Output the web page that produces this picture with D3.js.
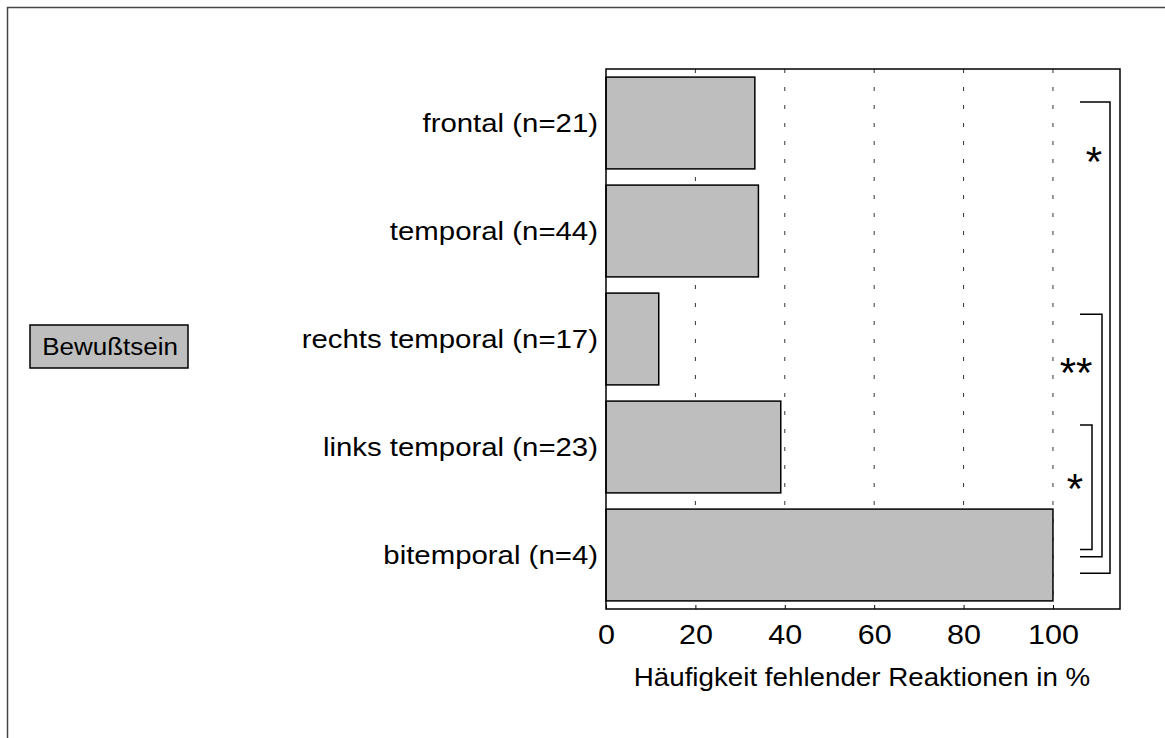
<!DOCTYPE html>
<html>
<head>
<meta charset="utf-8">
<script src="https://cdn.jsdelivr.net/npm/d3@7"></script>
<style>
  body { margin: 0; background: #fff; }
  text { font-family: "Liberation Sans", Arial, sans-serif; fill: #000; }
</style>
</head>
<body>
<div id="chart"></div>
<script>
// Data
const categories = ["frontal (n=21)", "temporal (n=44)", "rechts temporal (n=17)", "links temporal (n=23)", "bitemporal (n=4)"];
const values = [33.3, 34.1, 11.8, 39.1, 100];
const tickValues = [0, 20, 40, 60, 80, 100];
const gridValues = [20, 40, 60, 80, 100];
const comparisonFrom = ["frontal (n=21)", "rechts temporal (n=17)", "links temporal (n=23)"];
const comparisonTo = ["bitemporal (n=4)", "bitemporal (n=4)", "bitemporal (n=4)"];
const comparisonLabels = ["*", "**", "*"];
const groupLabel = "Bewußtsein";
const xTitle = "Häufigkeit fehlender Reaktionen in %";

const width = 1165;
const height = 738;
const plot = { left: 606, right: 1120, top: 69, bottom: 609 };
const stretch = 1.13; // the original lettering is a bit wider than Liberation Sans

const svg = d3.select("#chart")
  .append("svg")
    .attr("width", width)
    .attr("height", height);

// outer page frame (clipped at right / bottom)
svg.append("rect")
  .attr("x", 7.5).attr("y", 7.5)
  .attr("width", width + 20).attr("height", height + 20)
  .attr("fill", "none")
  .attr("stroke", "#444")
  .attr("stroke-width", 1.5);

const x = d3.scaleLinear().domain([0, 115]).range([plot.left, plot.right]);
const y = d3.scaleBand().domain(categories).range([plot.top, plot.bottom])
  .paddingInner(0.15).paddingOuter(0.075);

// helper: place a text at (px, py) with horizontal stretch
function place(sel, px, py) {
  return sel.attr("x", 0).attr("y", 0)
    .attr("transform", `translate(${px},${py}) scale(${stretch},1)`);
}

// dotted grid lines
svg.selectAll(".grid")
  .data(gridValues)
  .enter()
  .append("line")
    .attr("x1", d => x(d)).attr("x2", d => x(d))
    .attr("y1", plot.top).attr("y2", plot.bottom)
    .attr("stroke", "#333")
    .attr("stroke-width", 1)
    .attr("stroke-dasharray", "4,14");

// bars
svg.selectAll(".bar")
  .data(categories)
  .enter()
  .append("rect")
    .attr("x", x(0))
    .attr("y", d => y(d))
    .attr("width", (d, i) => x(values[i]) - x(0))
    .attr("height", y.bandwidth())
    .attr("fill", "#bebebe")
    .attr("stroke", "#000")
    .attr("stroke-width", 1.5);

// plot frame
svg.append("rect")
  .attr("x", plot.left).attr("y", plot.top)
  .attr("width", plot.right - plot.left)
  .attr("height", plot.bottom - plot.top)
  .attr("fill", "none")
  .attr("stroke", "#000")
  .attr("stroke-width", 1.5);

// x axis, ticks pointing inward
const xAxis = svg.append("g")
  .attr("transform", `translate(0,${plot.bottom})`)
  .call(d3.axisBottom(x).tickValues(tickValues).tickSizeInner(-4).tickSizeOuter(0).tickPadding(16));
xAxis.select(".domain").remove();
xAxis.selectAll(".tick line").attr("stroke", "#000");
xAxis.selectAll("text")
  .attr("transform", `scale(${stretch},1)`)
  .style("font-family", "'Liberation Sans', Arial, sans-serif")
  .style("font-size", "27px")
  .attr("fill", "#000");

place(svg.append("text"), 862, 686)
  .attr("text-anchor", "middle")
  .style("font-size", "25px")
  .attr("transform", `translate(862,686) scale(1.11,1)`)
  .text(xTitle);

// category labels
svg.selectAll(".cat")
  .data(categories)
  .enter()
  .append("text")
    .each(function (d) { place(d3.select(this), plot.left - 8, y(d) + y.bandwidth() / 2); })
    .attr("dy", "0.35em")
    .attr("text-anchor", "end")
    .style("font-size", "26px")
    .text(d => d);

// group label box
const box = svg.append("g");
box.append("rect")
  .attr("x", 30).attr("y", 325)
  .attr("width", 158).attr("height", 43)
  .attr("fill", "#bebebe")
  .attr("stroke", "#000")
  .attr("stroke-width", 1.5);
place(box.append("text"), 110, 347)
  .attr("dy", "0.35em")
  .attr("text-anchor", "middle")
  .style("font-size", "23px")
  .text(groupLabel);

// significance brackets
const bw = y.bandwidth();
const bracketLayout = [
  { vx: 1110, top: 0.27, bottom: 0.70, sx: 1094, sy: 0.86 },
  { vx: 1102, top: 0.23, bottom: 0.52, sx: 1076, sy: 0.80 },
  { vx: 1092, top: 0.26, bottom: 0.44, sx: 1075, sy: 0.89 }
];
comparisonLabels.forEach((lab, i) => {
  const L = bracketLayout[i];
  const y1 = y(comparisonFrom[i]) + L.top * bw;
  const y2 = y(comparisonTo[i]) + L.bottom * bw;
  svg.append("path")
    .attr("d", `M1080,${y1}H${L.vx}V${y2}H1080`)
    .attr("fill", "none")
    .attr("stroke", "#000")
    .attr("stroke-width", 1.5);
  svg.append("text")
    .attr("x", L.sx)
    .attr("y", y(comparisonFrom[i]) + L.sy * bw + 20)
    .attr("text-anchor", "middle")
    .style("font-size", "42px")
    .text(lab);
});
</script>
</body>
</html>
